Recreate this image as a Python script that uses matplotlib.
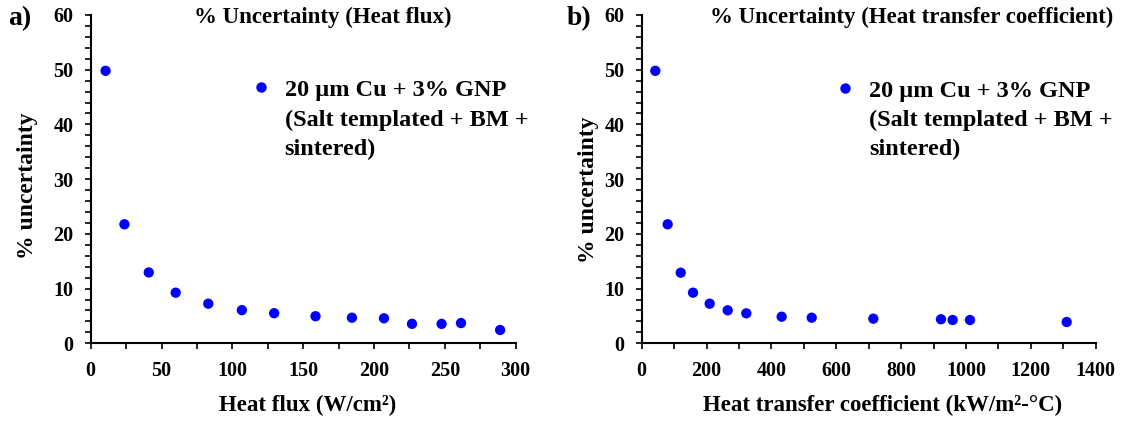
import matplotlib
matplotlib.use("Agg")
import matplotlib.pyplot as plt
from matplotlib.ticker import MultipleLocator
from matplotlib.lines import Line2D

plt.rcParams["font.family"] = ["Liberation Serif", "DejaVu Serif"]
plt.rcParams["font.weight"] = "bold"

# uncertainty vs heat flux
heat_flux = [10.5, 23.8, 41.0, 60.0, 83.0, 106.7, 129.5, 158.7, 184.4, 207.0, 226.8, 247.7, 261.4, 289.0]
unc_q = [49.8, 21.75, 12.95, 9.25, 7.24, 6.06, 5.5, 4.95, 4.68, 4.57, 3.56, 3.55, 3.7, 2.43]

# uncertainty vs heat transfer coefficient
htc = [42.0, 80.0, 120.3, 158.2, 209.6, 265.2, 322.6, 431.6, 524.2, 714.3, 922.9, 958.9, 1012.3, 1310.5]
unc_h = [49.8, 21.75, 12.9, 9.25, 7.24, 6.03, 5.48, 4.86, 4.68, 4.5, 4.39, 4.26, 4.26, 3.89]

series_label = ["20 µm Cu + 3% GNP", "(Salt templated + BM +", "sintered)"]

W, H = 1129, 421
Y_TOP, Y_BOT = 15.0, 343.3
fig = plt.figure(figsize=(W / 100, H / 100), dpi=100)


def px_box(x0, x1):
    return [x0 / W, 1 - Y_BOT / H, (x1 - x0) / W, (Y_BOT - Y_TOP) / H]


def style_axis(ax, xmax, xmajor, xminor):
    ax.set_xlim(0, xmax)
    ax.set_ylim(0, 60)
    ax.xaxis.set_major_locator(MultipleLocator(xmajor))
    ax.xaxis.set_minor_locator(MultipleLocator(xminor))
    ax.yaxis.set_major_locator(MultipleLocator(10))
    ax.yaxis.set_minor_locator(MultipleLocator(2))
    for s in ["top", "right"]:
        ax.spines[s].set_visible(False)
    for s in ["left", "bottom"]:
        ax.spines[s].set_linewidth(1.5)
    ax.tick_params(which="both", direction="out", length=4, width=1.2, color="black")
    ax.tick_params(axis="y", labelsize=14.5, pad=8.5)
    ax.tick_params(axis="x", labelsize=14.5, pad=9)
    ax.set_ylabel("% uncertainty", fontsize=17, fontweight="bold")


def add_legend(marker_px, text_x):
    mx, my = marker_px
    fs = 17.5
    fs_px = fs * 100 / 72
    hl = 0.6
    h = Line2D([], [], marker="o", color="#0000ff", linestyle="none", markersize=7.5, markeredgewidth=0)
    pad = (text_x - mx - hl * fs_px / 2) / fs_px
    fig.legend([h], [series_label[0]], loc="center left",
               bbox_to_anchor=((mx - hl * fs_px / 2) / W, 1 - (my - 0.5) / H),
               frameon=False, borderpad=0, borderaxespad=0, handlelength=hl,
               handletextpad=pad, prop={"size": fs, "weight": "bold"})
    for i, line in enumerate(series_label[1:]):
        fig.text(text_x / W, 1 - (126 + 29 * i) / H, line, fontsize=fs, fontweight="bold",
                 ha="left", va="baseline")


def label_pos(ax, x0, x1, xlab_cx, ylab_right, ylab_cy):
    w = x1 - x0
    h = Y_BOT - Y_TOP
    ax.xaxis.set_label_coords((xlab_cx - x0) / w, -(395 - Y_BOT) / h)
    ax.yaxis.set_label_coords(-(x0 - ylab_right) / w, (Y_BOT - ylab_cy) / h)


# panel a: heat flux
L0, L1 = 90.7, 515.7
ax1 = fig.add_axes(px_box(L0, L1))
ax1.scatter(heat_flux, unc_q, s=55, color="#0000ff", edgecolors="none", zorder=3, clip_on=False)
style_axis(ax1, 300, 50, 25)
ax1.set_xlabel("Heat flux (W/cm²)", fontsize=16.5, fontweight="bold")
label_pos(ax1, L0, L1, 308, 38, 186)
fig.text(322.7 / W, 1 - 17 / H, "% Uncertainty (Heat flux)", fontsize=16.5, fontweight="bold",
         ha="center", va="center")
fig.text(19.6 / W, 1 - 19 / H, "a)", fontsize=20, fontweight="bold", ha="center", va="center")
add_legend((260.7, 90), 284.6)

# panel b: heat transfer coefficient
R0, R1 = 641.7, 1095.7
ax2 = fig.add_axes(px_box(R0, R1))
ax2.scatter(htc, unc_h, s=55, color="#0000ff", edgecolors="none", zorder=3, clip_on=False)
style_axis(ax2, 1400, 200, 100)
ax2.set_xlabel("Heat transfer coefficient (kW/m²-°C)", fontsize=16.5, fontweight="bold")
label_pos(ax2, R0, R1, 882.4, 599, 190)
fig.text(912 / W, 1 - 17 / H, "% Uncertainty (Heat transfer coefficient)", fontsize=16.5,
         fontweight="bold", ha="center", va="center")
fig.text(579 / W, 1 - 19 / H, "b)", fontsize=20, fontweight="bold", ha="center", va="center")
add_legend((844.8, 91), 869.1)

fig.savefig("out.png", dpi=100)
